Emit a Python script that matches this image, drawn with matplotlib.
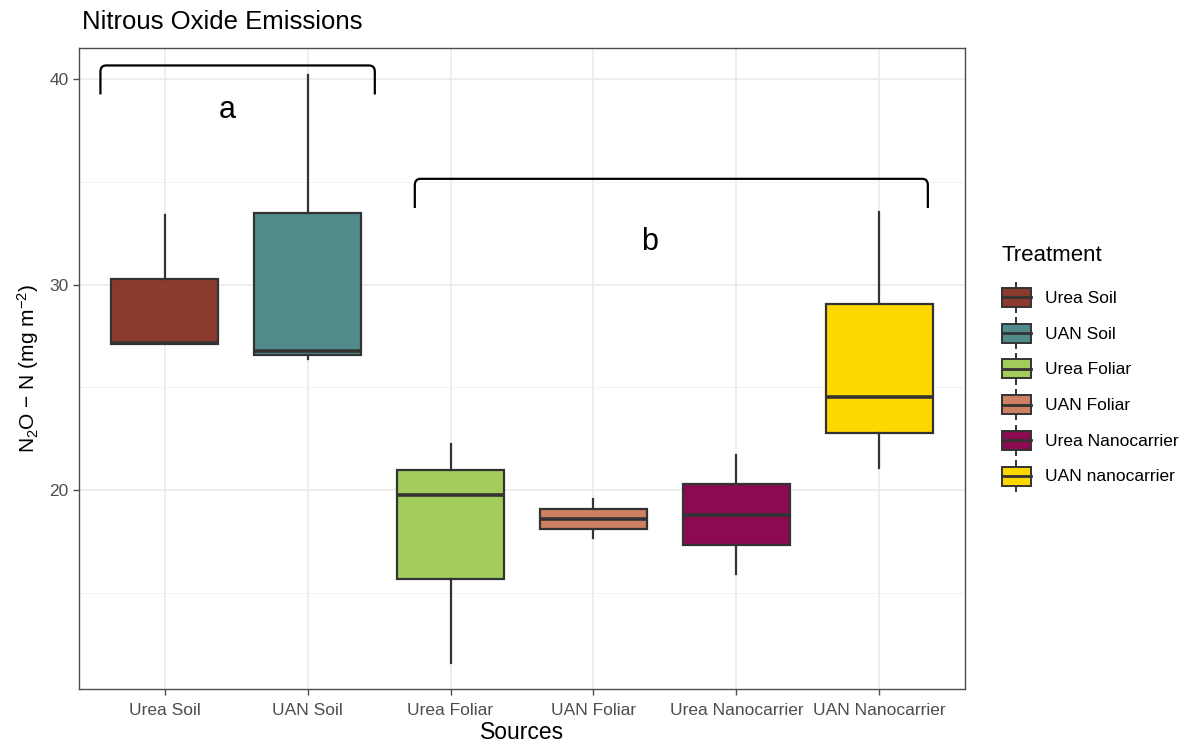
import matplotlib
matplotlib.use("Agg")
import matplotlib.pyplot as plt
from matplotlib.patches import Rectangle
from matplotlib.lines import Line2D
from matplotlib.path import Path
from matplotlib.patches import PathPatch
from matplotlib.legend_handler import HandlerBase

plt.rcParams["font.family"] = ["Liberation Sans", "DejaVu Sans"]
plt.rcParams["mathtext.fontset"] = "custom"
plt.rcParams["mathtext.rm"] = "Liberation Sans"
plt.rcParams["mathtext.it"] = "Liberation Sans:italic"

# ---- data ----
sources = ["Urea Soil", "UAN Soil", "Urea Foliar", "UAN Foliar", "Urea Nanocarrier", "UAN Nanocarrier"]
treatments = ["Urea Soil", "UAN Soil", "Urea Foliar", "UAN Foliar", "Urea Nanocarrier", "UAN nanocarrier"]
whisker_low = [27.1, 26.4, 11.6, 17.65, 15.93, 21.09]
q1 = [27.1, 26.6, 15.7, 18.11, 17.34, 22.8]
medians = [27.18, 26.8, 19.79, 18.62, 18.81, 24.56]
q3 = [30.3, 33.48, 21.0, 19.1, 20.28, 29.05]
whisker_high = [33.4, 40.2, 22.23, 19.57, 21.71, 33.56]
colors = ["#8B3A2E", "#528B8B", "#A2CD5A", "#CD8162", "#8B0A50", "#FFD700"]

group_a = {"label": "a", "x0": 0.55, "x1": 2.47, "y": 40.68, "leg": 39.27, "tx": 1.44, "ty": 38.5}
group_b = {"label": "b", "x0": 2.75, "x1": 6.34, "y": 35.16, "leg": 33.74, "tx": 4.39, "ty": 32.1}

fig = plt.figure(figsize=(11.99, 7.42), dpi=100)
ax = fig.add_axes([79/1199, 1-689/742, (965-79)/1199, (689-48)/742])

positions = list(range(1, len(sources) + 1))
stats = []
for i in range(len(sources)):
    stats.append(dict(med=medians[i], q1=q1[i], q3=q3[i],
                      whislo=whisker_low[i], whishi=whisker_high[i], fliers=[]))

edge = "#333333"
bp = ax.bxp(stats, positions=positions, widths=0.75, patch_artist=True, showcaps=False,
            boxprops=dict(edgecolor=edge, linewidth=1.6),
            medianprops=dict(color=edge, linewidth=2.6, solid_capstyle="butt"),
            whiskerprops=dict(color=edge, linewidth=1.6), zorder=3)
for patch, c in zip(bp["boxes"], colors):
    patch.set_facecolor(c)

ax.set_xlim(0.4, 6.6)
ax.set_ylim(10.32, 41.53)
ax.set_yticks([20, 30, 40])
ax.set_yticks([15, 25, 35], minor=True)
ax.set_xticks(positions)
ax.set_xticklabels(sources)
ax.grid(True, which="major", color="#EBEBEB", linewidth=1.2, zorder=0)
ax.grid(True, which="minor", axis="y", color="#F2F2F2", linewidth=0.7, zorder=0)
ax.set_axisbelow(True)
for s in ax.spines.values():
    s.set_color("#4D4D4D")
    s.set_linewidth(1.0)
ax.tick_params(axis="both", which="major", length=4, width=1, color="#4D4D4D",
               labelcolor="#4D4D4D", labelsize=12.5)
ax.tick_params(axis="both", which="minor", length=0)
ax.tick_params(axis="x", pad=6)

ax.set_xlabel("Sources", fontsize=16.5, labelpad=2)
ax.set_ylabel(r"N$_2$O $-$ N (mg m$^{-2}$)", fontsize=15, labelpad=6)
fig.text(82/1199, 1-22/742, "Nitrous Oxide Emissions", fontsize=18.5, ha="left", va="center")

def bracket(g):
    r = 0.04
    ry = 0.3
    verts = [(g["x0"], g["leg"]), (g["x0"], g["y"] - ry), (g["x0"], g["y"]), (g["x0"] + r, g["y"]),
             (g["x1"] - r, g["y"]), (g["x1"], g["y"]), (g["x1"], g["y"] - ry), (g["x1"], g["leg"])]
    codes = [Path.MOVETO, Path.LINETO, Path.CURVE3, Path.CURVE3,
             Path.LINETO, Path.CURVE3, Path.CURVE3, Path.LINETO]
    ax.add_patch(PathPatch(Path(verts, codes), fill=False, edgecolor="black", linewidth=1.6, zorder=4))
    ax.text(g["tx"], g["ty"], g["label"], fontsize=22, ha="center", va="center", zorder=4)

bracket(group_a)
bracket(group_b)

class BoxKey(HandlerBase):
    def create_artists(self, legend, orig_handle, xdescent, ydescent, width, height, fontsize, trans):
        fc = orig_handle.get_facecolor()
        x0, y0 = -xdescent, -ydescent
        bh = height * 0.64
        by = y0 + (height - bh) / 2
        cx = x0 + width / 2
        arts = [
            Line2D([cx, cx], [y0, by], color=edge, linewidth=1.4, transform=trans),
            Line2D([cx, cx], [by + bh, y0 + height], color=edge, linewidth=1.4, transform=trans),
            Rectangle((x0, by), width, bh, facecolor=fc, edgecolor=edge, linewidth=1.4, transform=trans),
            Line2D([x0, x0 + width], [by + bh / 2, by + bh / 2], color=edge, linewidth=2.0, transform=trans),
        ]
        return arts

handles = [Rectangle((0, 0), 1, 1, facecolor=c) for c in colors]
leg = fig.legend(handles, treatments, handler_map={Rectangle: BoxKey()},
                 loc="upper left", bbox_to_anchor=(1002/1199, 1-245/742),
                 frameon=False, title="Treatment", fontsize=12.5, title_fontsize=16,
                 handlelength=1.65, handleheight=2.25, labelspacing=0.35, handletextpad=0.85,
                 borderaxespad=0, borderpad=0)
leg._legend_box.align = "left"
leg._legend_box.sep = 12

fig.savefig("out.png", dpi=100)
